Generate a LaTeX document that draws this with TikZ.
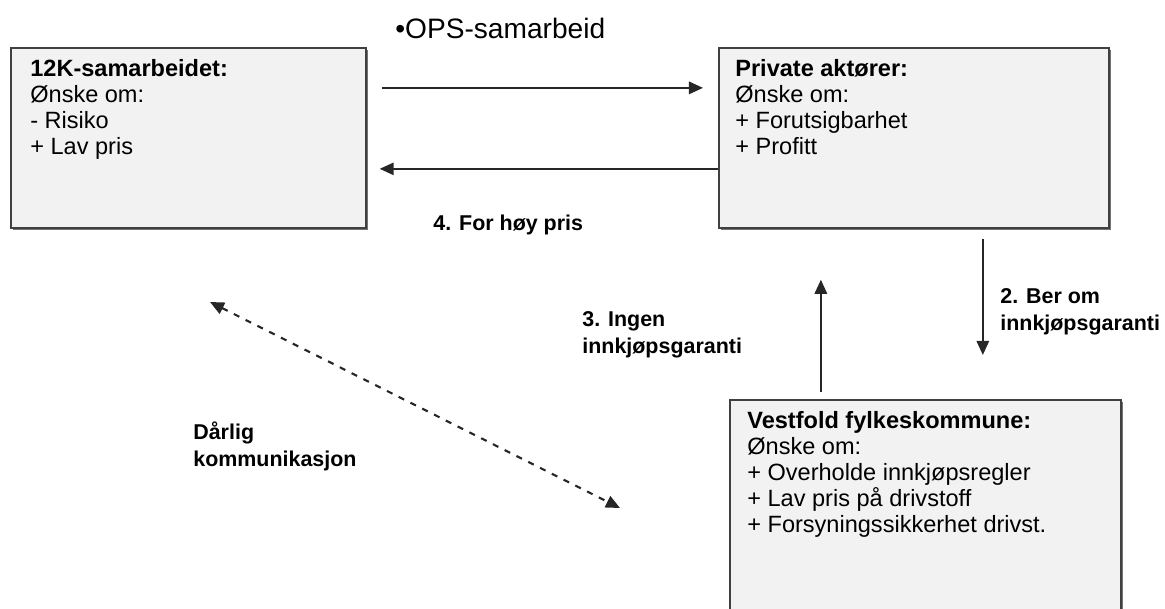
\documentclass[tikz,border=0pt]{standalone}
\usepackage{fontspec}
\setmainfont{Liberation Sans}
\usetikzlibrary{arrows.meta,shadows}

\tikzset{
  boks/.style={draw=black!75, line width=1pt, fill=gray!10, anchor=north west,
    inner sep=0pt, drop shadow={shadow xshift=1.2pt, shadow yshift=-1.2pt, fill=black!55, opacity=1}},
  bokstekst/.style={anchor=north west, align=left, inner sep=0pt,
    font=\fontsize{13.4}{14.8}\selectfont},
  flyt/.style={-{Triangle[length=8pt,width=7pt]}, line width=1.2pt, black!85},
  etikett/.style={anchor=west, align=left, inner sep=0pt,
    font=\bfseries\fontsize{12.2}{15.4}\selectfont},
}

\begin{document}
\begin{tikzpicture}[x=0.02cm, y=-0.02cm]
    \clip (0,0) rectangle (1165,608);
    % The three parties
    \node[boks, minimum width=7.1cm, minimum height=3.6cm] (ktolv) at (10,47) {};
    \node[boks, minimum width=7.8cm, minimum height=3.6cm] (privat) at (718,47) {};
    \node[boks, minimum width=7.82cm, minimum height=5cm] (vestfold) at (729,399) {};
    \node[bokstekst] (ktolvtekst) at ([xshift=0.4cm, yshift=-0.24cm]ktolv.north west)
        {\textbf{12K-samarbeidet:}\\Ønske om:\\- Risiko\\+ Lav pris};
    \node[bokstekst] (privattekst) at ([xshift=0.34cm, yshift=-0.24cm]privat.north west)
        {\textbf{Private aktører:}\\Ønske om:\\+ Forutsigbarhet\\+ Profitt};
    \node[bokstekst] (vestfoldtekst) at ([xshift=0.36cm, yshift=-0.24cm]vestfold.north west)
        {\textbf{Vestfold fylkeskommune:}\\Ønske om:\\+ Overholde innkjøpsregler\\+ Lav pris på drivstoff\\+ Forsyningssikkerhet drivst.};
    % Arrows between the boxes
    \draw[flyt, shorten <=0.3cm, shorten >=0.3cm] ([yshift=1cm]ktolv.east) -- ([yshift=1cm]ktolv.east -| privat.west);
    \draw[flyt, shorten >=0.26cm] ([yshift=-0.62cm]privat.west) -- ([yshift=-0.62cm]privat.west -| ktolv.east);
    \draw[flyt, shorten <=0.2cm, shorten >=0.88cm] ([xshift=1.38cm]privat.south) -- ([xshift=1.38cm]privat.south |- vestfold.north);
    \draw[flyt, shorten <=0.14cm, shorten >=1.02cm] ([xshift=-2.09cm]vestfold.north) -- ([xshift=-2.09cm]vestfold.north |- privat.south);
    % Bad communication
    \coordinate (komA) at (210,302);
    \coordinate (komB) at (620,508);
    \draw[flyt, {Triangle[length=8pt,width=7pt]}-{Triangle[length=8pt,width=7pt]}, dash pattern=on 3.5pt off 4pt] (komA) -- (komB);
    % Labels
    \node[anchor=west, inner sep=0pt, font=\fontsize{16}{19}\selectfont] (ops) at (395,28) {•OPS-samarbeid};
    \node[etikett] (pris) at (433,225) {4. For høy pris};
    \node[etikett] (ber) at (1000,312) {2. Ber om\\innkjøpsgaranti};
    \node[etikett] (ingen) at (582,335) {3. Ingen\\innkjøpsgaranti};
    \node[etikett] (darlig) at (193,446) {Dårlig\\kommunikasjon};
\end{tikzpicture}
\end{document}
